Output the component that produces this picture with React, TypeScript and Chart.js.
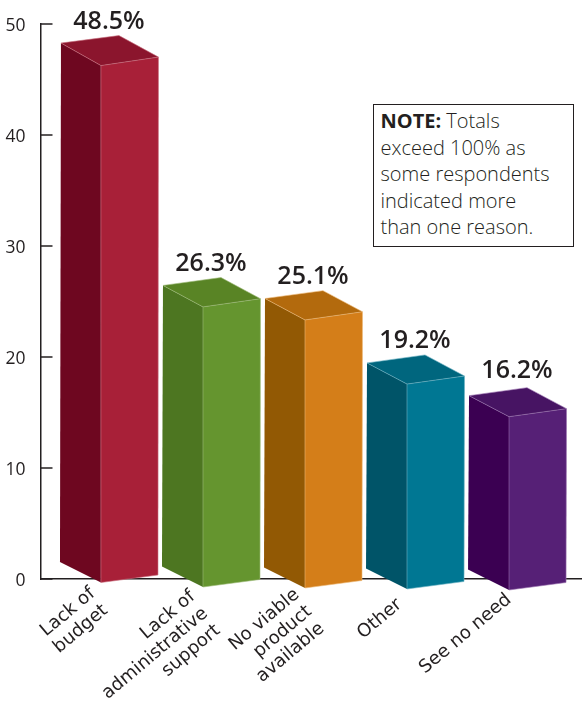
import React, { useEffect, useRef } from "react";
import { Chart, registerables } from "chart.js";

Chart.register(...registerables);

const categories: string[][] = [
  ["Lack of", "budget"],
  ["Lack of", "administrative", "support"],
  ["No viable", "product", "available"],
  ["Other"],
  ["See no need"],
];
const values = [48.5, 26.3, 25.1, 19.2, 16.2];
const valueLabels = ["48.5%", "26.3%", "25.1%", "19.2%", "16.2%"];
const frontColors = ["#A82038", "#65952F", "#D47E19", "#007793", "#562076"];
const sideColors = ["#6E0720", "#4D7621", "#925904", "#005468", "#3B0052"];
const topColors = ["#8B152D", "#598425", "#B36A0D", "#00667E", "#471463"];
const edgeColors = ["#C9707F", "#9DBB78", "#EDB877", "#6FB3C4", "#9A72AE"];
const yTicks = [0, 10, 20, 30, 40, 50];

// drawing tweaks for the perspective of the bars
const floorShift = [0, 4.5, 5.5, 6.5, 7.5];
const labelLift = [7, 7, 7, 7, 10];
const tickAnchorX = [-34, -36, -34, -33.5, -26];
const tickAnchorY = [595, 598, 596, 606, 601];

const ink = "#231F20";

const bars3d = {
  id: "bars3d",
  afterDatasetsDraw(chart: any) {
    const { ctx } = chart;
    const y = chart.scales.y;
    const meta = chart.getDatasetMeta(0);
    const base = y.getPixelForValue(0);
    meta.data.forEach((bar: any, i: number) => {
      const cx = bar.x;
      const pv = y.getPixelForValue(values[i]);
      const left = 3.09 + 0.9835 * pv;
      const back = -4.35 + 0.982 * pv;
      const right = 17.2 + 0.9807 * pv;
      const front = 25.76 + 0.9793 * pv;
      const s = floorShift[i];
      const lb = base - 17 + s;
      const fb = base + 3.5 + s;
      const rb = base - 4 + s;
      const xL = cx - 69;
      const xF = cx - 29;
      const xR = cx + 28.5;
      const xB = cx - 11;
      const poly = (pts: number[][], fill: string) => {
        ctx.beginPath();
        pts.forEach(([a, b], k) => (k ? ctx.lineTo(a, b) : ctx.moveTo(a, b)));
        ctx.closePath();
        ctx.fillStyle = fill;
        ctx.fill();
      };
      const edge = (pts: number[][]) => {
        ctx.beginPath();
        pts.forEach(([a, b], k) => (k ? ctx.lineTo(a, b) : ctx.moveTo(a, b)));
        ctx.strokeStyle = edgeColors[i];
        ctx.lineWidth = 0.6;
        ctx.stroke();
      };
      ctx.save();
      poly([[xL, left], [xF, front], [xF, fb], [xL - 1, lb]], sideColors[i]);
      poly([[xF, front], [xR, right], [xR - 0.5, rb], [xF, fb]], frontColors[i]);
      poly([[xL, left], [xB, back], [xR, right], [xF, front]], topColors[i]);
      edge([[xL, left], [xF, front], [xR, right]]);
      edge([[xF, front], [xF, fb], [xR - 0.5, rb]]);
      edge([[xL, left], [xB, back], [xR, right], [xR - 0.5, rb]]);

      ctx.fillStyle = ink;
      ctx.textAlign = "center";
      ctx.textBaseline = "alphabetic";
      ctx.font = "600 25px 'Open Sans'";
      ctx.fillText(valueLabels[i], cx - 21, back - labelLift[i]);

      ctx.font = "18.2px 'DejaVu Sans'";
      ctx.textAlign = "right";
      categories[i].forEach((line, k) => {
        ctx.save();
        ctx.translate(cx + tickAnchorX[i] + k * 12.5, tickAnchorY[i] + k * 17);
        ctx.rotate((-40 * Math.PI) / 180);
        ctx.fillText(line, 0, 0);
        ctx.restore();
      });
      ctx.restore();
    });
  },
  beforeDatasetsDraw(chart: any) {
    const { ctx } = chart;
    const y = chart.scales.y;
    ctx.save();
    ctx.strokeStyle = ink;
    ctx.lineWidth = 1.5;
    y.ticks.forEach((t: any) => {
      const p = y.getPixelForValue(t.value);
      ctx.beginPath();
      ctx.moveTo(y.right, p);
      ctx.lineTo(y.right + 12, p);
      ctx.stroke();
    });
    ctx.restore();
  },
};

export default function App() {
  const ref = useRef<HTMLCanvasElement>(null);
  useEffect(() => {
    const chart = new Chart(ref.current!, {
      type: "bar",
      data: {
        datasets: [
          {
            data: values.map((v, i) => ({ x: i, y: v })),
            backgroundColor: "rgba(0,0,0,0)",
            barThickness: 58,
          },
        ],
      },
      options: {
        animation: false,
        responsive: false,
        plugins: { legend: { display: false }, tooltip: { enabled: false } },
        layout: { padding: { left: 0, right: 0, top: 24, bottom: 122 } },
        scales: {
          x: {
            type: "linear",
            offset: false,
            min: -0.877,
            max: 4.431,
            grid: { display: false },
            ticks: { display: false },
            border: { color: ink, width: 1.5 },
            afterFit: (s: any) => {
              s.height = 0;
            },
          },
          y: {
            min: 0,
            max: 50,
            afterBuildTicks: (s: any) => {
              s.ticks = yTicks.map((value) => ({ value }));
            },
            afterFit: (s: any) => {
              s.width = 40.5;
            },
            grid: { display: false },
            border: { color: ink, width: 1.5 },
            ticks: {
              color: ink,
              padding: 7,
              labelOffset: 2.5,
              font: { family: "'Open Sans'", size: 17.5 },
            },
          },
        },
      },
      plugins: [bars3d],
    } as any);
    return () => chart.destroy();
  }, []);

  return (
    <div style={{ position: "absolute", left: 0, top: 0, width: 582, height: 701 }}>
      <canvas ref={ref} width={582} height={701} style={{ display: "block" }} />
      <div
        style={{
          position: "absolute",
          left: 373,
          top: 104,
          width: 201,
          height: 143,
          boxSizing: "border-box",
          border: `1.5px solid ${ink}`,
          padding: "3px 0 0 6.5px",
          font: "300 20px/26.6px 'Open Sans'",
          color: ink,
          background: "#fff",
          whiteSpace: "nowrap",
        }}
      >
        <b style={{ fontWeight: 700 }}>NOTE:</b> Totals
        <br />
        exceed 100% as
        <br />
        some respondents
        <br />
        indicated more
        <br />
        than one reason.
      </div>
    </div>
  );
}
